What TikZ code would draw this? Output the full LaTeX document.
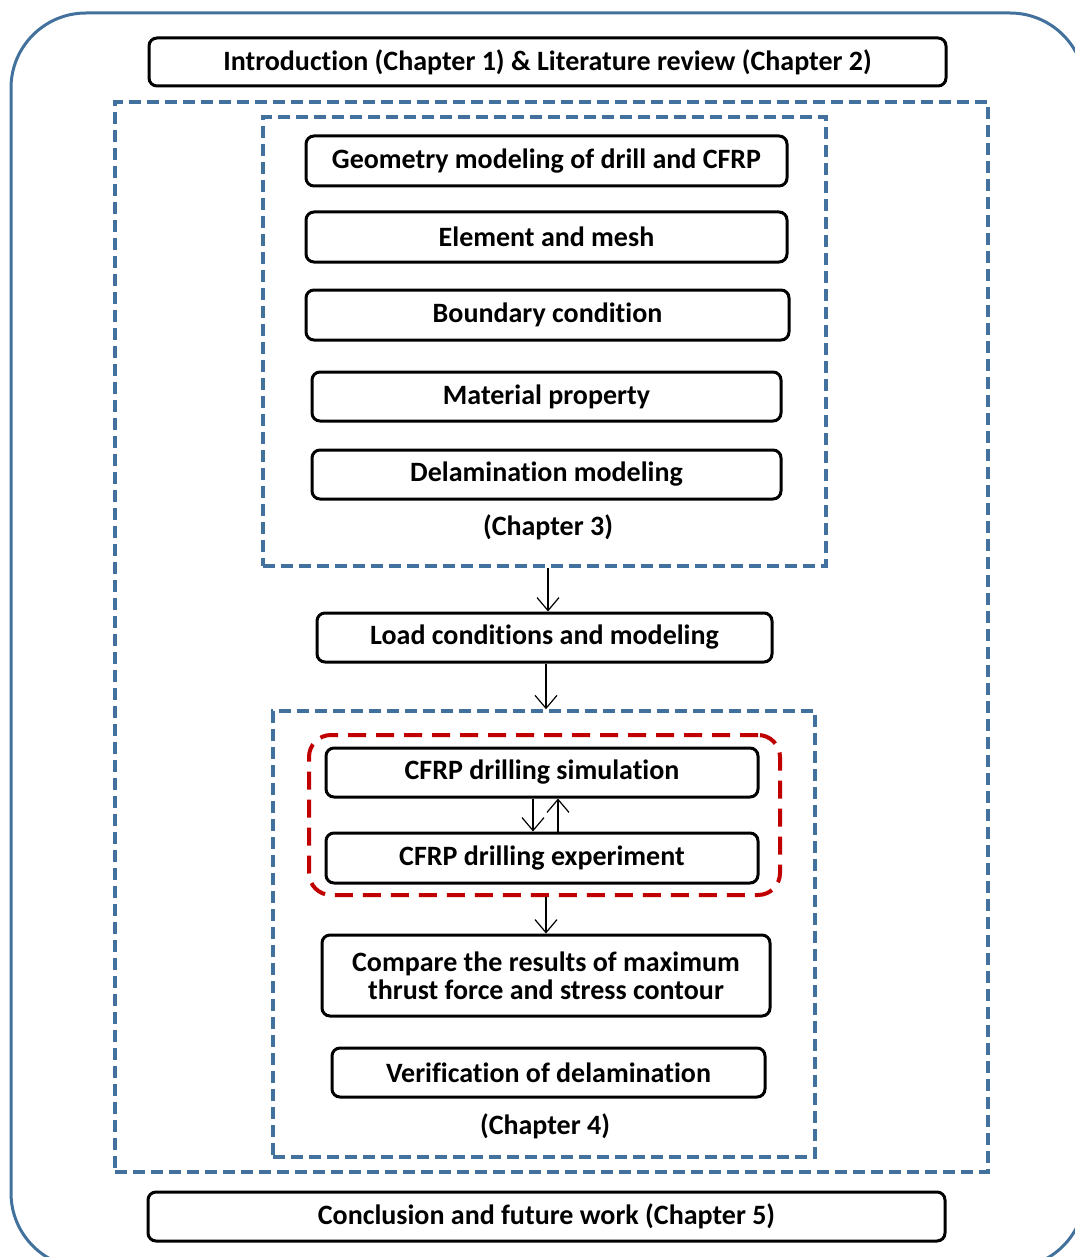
\documentclass[tikz,border=0pt]{standalone}
\usepackage{fontspec}
\setmainfont{Carlito}[Ligatures=NoCommon]
\usetikzlibrary{arrows.meta}
\definecolor{frameblue}{HTML}{41719C}
\definecolor{dashred}{HTML}{C00000}
\begin{document}
\begin{tikzpicture}[x=1pt,y=-1pt,
  box/.style={draw=black, line width=3pt, rounded corners=8pt, fill=white, inner sep=0pt,
    font=\fontsize{28}{28}\selectfont\bfseries, align=center},
  bluebox/.style={draw=frameblue, line width=3.5pt, dash pattern=on 12pt off 6pt, inner sep=0pt},
  redbox/.style={draw=dashred, line width=4pt, dash pattern=on 18pt off 10pt, rounded corners=22pt, inner sep=0pt},
  lbl/.style={font=\fontsize{28}{30}\selectfont\bfseries, inner sep=0pt},
  arr/.style={line width=1.2pt, -{Straight Barb[length=13pt,width=22pt,line width=1.2pt]}}
]
\useasboundingbox (0,0) rectangle (1075,1257);
\clip (0,0) rectangle (1075,1257);
\node[draw=frameblue, line width=3pt, rounded corners=75pt, minimum width=1074pt, minimum height=1255pt, inner sep=0pt] (frame) at (548,640.5) {};

\node[box, minimum width=797pt, minimum height=48pt] (intro) at (547.5,62) {Introduction (Chapter 1) \& Literature review (Chapter 2)};

\node[bluebox, minimum width=873pt, minimum height=1070pt] (outer) at (551.5,637) {};
\node[bluebox, minimum width=563pt, minimum height=449pt] (ch3) at (544.5,341.5) {};

\node[box, minimum width=481pt, minimum height=50pt] (geo) at (546.5,161) {Geometry modeling of drill and CFRP};
\node[box, minimum width=481pt, minimum height=50pt] (elem) at (546.5,237) {Element and mesh};
\node[box, minimum width=483pt, minimum height=50pt] (bound) at (547.5,315) {Boundary condition};
\node[box, minimum width=469pt, minimum height=49pt] (mat) at (546.5,396.5) {Material property};
\node[box, minimum width=469pt, minimum height=49pt] (delam) at (546.5,474.5) {Delamination modeling};
\node[lbl] (c3) at (548,527) {(Chapter 3)};

\node[box, minimum width=455pt, minimum height=49pt] (load) at (544.5,637.5) {Load conditions and modeling};

\node[bluebox, minimum width=542pt, minimum height=446pt] (ch4) at (544,934) {};
\node[redbox, minimum width=471pt, minimum height=160pt] (red) at (544.5,815) {};

\node[box, minimum width=432pt, minimum height=49pt] (sim) at (542,772.5) {CFRP drilling simulation};
\node[box, minimum width=432pt, minimum height=50pt] (exp) at (542,858) {CFRP drilling experiment};
\node[box, minimum width=448pt, minimum height=81pt] (comp) at (546,975.5) {Compare the results of maximum\\thrust force and stress contour};
\node[box, minimum width=433pt, minimum height=49pt] (verif) at (548.5,1072.5) {Verification of delamination};
\node[lbl] (c4) at (545,1126) {(Chapter 4)};

\node[box, minimum width=797pt, minimum height=49pt] (concl) at (546.5,1216.5) {Conclusion and future work (Chapter 5)};

\draw[arr] ([xshift=3.5pt]ch3.south) -- ([xshift=3.5pt]load.north);
\draw[arr] ([xshift=1.5pt]load.south) -- ([xshift=2pt]ch4.north);
\draw[arr] ([xshift=-9pt]sim.south) -- ([xshift=-9pt]exp.north);
\draw[arr] ([xshift=16pt]exp.north) -- ([xshift=16pt]sim.south);
\draw[arr] ([xshift=1.5pt]red.south) -- ([xshift=0pt]comp.north);
\end{tikzpicture}
\end{document}
